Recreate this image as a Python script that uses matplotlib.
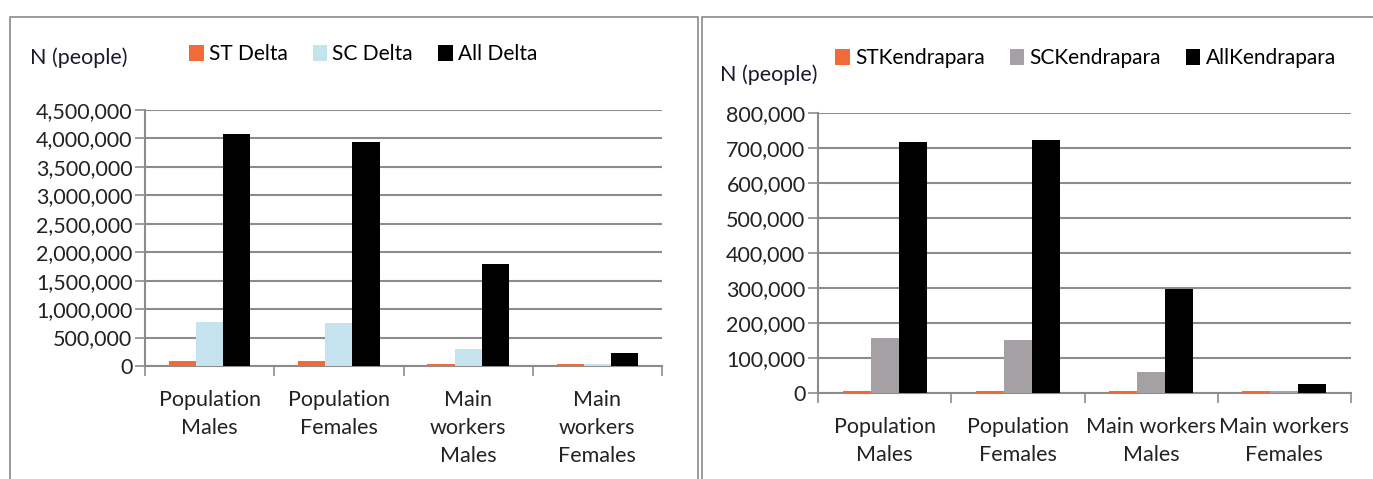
import numpy as np
import matplotlib.pyplot as plt
from matplotlib.patches import Rectangle
from matplotlib.ticker import FuncFormatter, MultipleLocator

plt.rcParams['font.family'] = ['Lato', 'DejaVu Sans']

categories_delta = ['Population\nMales', 'Population\nFemales', 'Main\nworkers\nMales', 'Main\nworkers\nFemales']
st_delta = [95000, 90000, 35000, 35000]
sc_delta = [780000, 750000, 300000, 30000]
all_delta = [4070000, 3940000, 1800000, 220000]

categories_kend = ['Population\nMales', 'Population\nFemales', 'Main workers\nMales', 'Main workers\nFemales']
st_kend = [5000, 5000, 5000, 5000]
sc_kend = [157000, 152000, 60000, 5000]
all_kend = [717000, 722000, 298000, 26000]

GRID = '#8c8c8c'
FS = 15.5

fig = plt.figure(figsize=(13.73, 4.79), dpi=100)

# panel frames
fig.patches.append(Rectangle((10 / 1373, -0.05), 688 / 1373, 1.0 - 17 / 479 + 0.05,
                             transform=fig.transFigure, fill=False, edgecolor='#8a8a8a', lw=1.2))
fig.patches.append(Rectangle((702 / 1373, -0.05), 700 / 1373, 1.0 - 17 / 479 + 0.05,
                             transform=fig.transFigure, fill=False, edgecolor='#8a8a8a', lw=1.2))


def draw_panel(ax, cats, series, colors, labels, ymax, ystep, legend_xy, title_xy):
    x = np.arange(len(cats))
    w = 0.21
    for k, (vals, c, lab) in enumerate(zip(series, colors, labels)):
        ax.bar(x + (k - 1) * w, vals, w, color=c, label=lab, zorder=3)
    ax.set_xlim(-0.5, len(cats) - 0.5)
    ax.set_ylim(0, ymax)
    ax.yaxis.set_major_locator(MultipleLocator(ystep))
    ax.yaxis.set_major_formatter(FuncFormatter(lambda v, p: f'{int(v):,}'))
    ax.grid(axis='y', color=GRID, lw=1.5, zorder=0)
    ax.set_xticks(np.arange(len(cats) + 1) - 0.5)
    ax.set_xticklabels([])
    ax.set_xticks(x, minor=True)
    ax.set_xticklabels(cats, minor=True, fontsize=FS, linespacing=1.5, color='#222222')
    ax.tick_params(axis='x', which='major', length=7, color=GRID, width=1.2)
    ax.tick_params(axis='x', which='minor', length=0, pad=17)
    ax.tick_params(axis='y', length=7, color=GRID, width=1.2, labelsize=FS, labelcolor='#222222', pad=2)
    for s in ['top', 'right']:
        ax.spines[s].set_visible(False)
    for s in ['left', 'bottom']:
        ax.spines[s].set_color(GRID)
        ax.spines[s].set_linewidth(1.5)
    ax.legend(ncol=3, loc='center left', bbox_to_anchor=legend_xy, bbox_transform=fig.transFigure,
              frameon=False, fontsize=FS - 0.5, handlelength=0.7, handleheight=0.8, handletextpad=0.25,
              columnspacing=1.2, borderaxespad=0, borderpad=0)
    fig.text(title_xy[0], title_xy[1], 'N (people)', fontsize=FS, color='#1a1a2e', va='center')


ax1 = fig.add_axes([145 / 1373, 0.2359, 517 / 1373, 0.5345])
draw_panel(ax1, categories_delta, [st_delta, sc_delta, all_delta],
           ['#f26a36', '#c5e3ef', '#000000'], ['ST Delta', 'SC Delta', 'All Delta'],
           4500000, 500000, (189 / 1373, 1 - 54 / 479), (30 / 1373, 1 - 58 / 479))

ax2 = fig.add_axes([818 / 1373, 0.1795, 533 / 1373, 0.5846])
draw_panel(ax2, categories_kend, [st_kend, sc_kend, all_kend],
           ['#f26a36', '#a4a0a4', '#000000'], ['STKendrapara', 'SCKendrapara', 'AllKendrapara'],
           800000, 100000, (835 / 1373, 1 - 58 / 479), (720 / 1373, 1 - 75 / 479))

fig.savefig('out.png', dpi=100)
